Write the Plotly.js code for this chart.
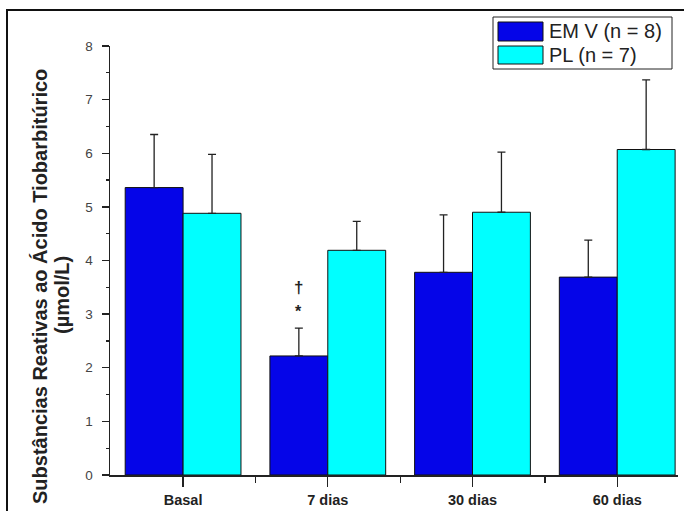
<!DOCTYPE html>
<html>
<head>
<meta charset="utf-8">
<script src="https://cdn.plot.ly/plotly-3.0.1.min.js"></script>
<style>html,body{margin:0;padding:0;background:#fff;}#chart{width:684px;height:511px;}</style>
</head>
<body>
<div id="chart"></div>
<script>
// ---- data ----
var categories = ["Basal", "7 dias", "30 dias", "60 dias"];
var emvName = "EM V (n = 8)";
var plName = "PL (n = 7)";
var emvMean = [5.36, 2.22, 3.78, 3.69];
var emvSD   = [0.99, 0.52, 1.07, 0.69];
var plMean  = [4.88, 4.19, 4.90, 6.07];
var plSD    = [1.10, 0.54, 1.12, 1.30];
var yTicks = [0, 1, 2, 3, 4, 5, 6, 7, 8];

// ---- layout geometry (pixels) ----
var L = 110, R = 6, T = 46, B = 36, Wd = 684, Ht = 511;
var PW = Wd - L - R, PH = Ht - T - B;
function px(x) { return (x - L) / PW; }
function py(y) { return (Ht - B - y) / PH; }

var xIdx = categories.map(function (c, i) { return i; });
var zeros = categories.map(function () { return 0; });

var emvTrace = {
  type: 'bar', name: emvName, x: xIdx, y: emvMean,
  marker: { color: '#0505e8', line: { color: '#111', width: 1 } },
  error_y: { type: 'data', symmetric: false, array: emvSD, arrayminus: zeros,
             color: '#222', thickness: 1.3, width: 4 }
};
var plTrace = {
  type: 'bar', name: plName, x: xIdx, y: plMean,
  marker: { color: '#00ffff', line: { color: '#111', width: 1 } },
  error_y: { type: 'data', symmetric: false, array: plSD, arrayminus: zeros,
             color: '#222', thickness: 1.3, width: 4 }
};

var font = 'Liberation Sans, Arial, sans-serif';

var layout = {
  width: Wd, height: Ht,
  margin: { l: L, r: R, t: T, b: B, pad: 0 },
  paper_bgcolor: '#fff', plot_bgcolor: '#fff',
  barmode: 'group', bargap: 0.2, bargroupgap: 0,
  showlegend: false,
  font: { family: font, color: '#222' },
  xaxis: {
    type: 'linear', range: [-0.505, 3.42],
    tickmode: 'array', tickvals: xIdx, ticktext: categories,
    ticks: 'outside', ticklen: 10, tickwidth: 1.3, tickcolor: '#222',
    minor: { tickmode: 'array', tickvals: [0.5, 1.5, 2.5], ticks: 'outside', ticklen: 6, tickwidth: 1.3, tickcolor: '#222' },
    showline: true, linecolor: '#222', linewidth: 1.5,
    showgrid: false, zeroline: false,
    ticklabelstandoff: 1,
    tickfont: { family: font, size: 14.5, color: '#222', weight: 'bold' }
  },
  yaxis: {
    range: [0, 8], tickmode: 'array', tickvals: yTicks,
    ticks: 'outside', ticklen: 7, tickwidth: 1.3, tickcolor: '#222',
    minor: { dtick: 0.5, tick0: 0, ticks: 'outside', ticklen: 3, tickwidth: 1.3, tickcolor: '#222' },
    showline: true, linecolor: '#222', linewidth: 1.5,
    showgrid: false, zeroline: false,
    ticklabelstandoff: 6,
    tickfont: { family: font, size: 13.5, color: '#444' }
  },
  shapes: [
    // outer frame (left & top)
    { type: 'line', xref: 'paper', yref: 'paper', x0: px(7), x1: px(7), y0: py(10), y1: py(520), line: { color: '#111', width: 2 } },
    { type: 'line', xref: 'paper', yref: 'paper', x0: px(6), x1: px(690), y0: py(10), y1: py(10), line: { color: '#111', width: 2 } },
    // legend box
    { type: 'rect', xref: 'paper', yref: 'paper', x0: px(493), x1: px(672), y0: py(17), y1: py(69), line: { color: '#222', width: 1 }, fillcolor: 'rgba(0,0,0,0)' },
    { type: 'rect', xref: 'paper', yref: 'paper', x0: px(498), x1: px(543), y0: py(22), y1: py(41), line: { color: '#111', width: 1 }, fillcolor: '#0505e8' },
    { type: 'rect', xref: 'paper', yref: 'paper', x0: px(498), x1: px(543), y0: py(46), y1: py(64), line: { color: '#111', width: 1 }, fillcolor: '#00ffff' }
  ],
  annotations: [
    { xref: 'paper', yref: 'paper', x: px(547), y: py(31), xanchor: 'left', yanchor: 'middle', showarrow: false,
      text: emvName, font: { family: font, size: 20, color: '#222' } },
    { xref: 'paper', yref: 'paper', x: px(547), y: py(55), xanchor: 'left', yanchor: 'middle', showarrow: false,
      text: plName, font: { family: font, size: 20, color: '#222' } },
    // y-axis title (two lines)
    { xref: 'paper', yref: 'paper', x: px(40), y: py(287), xanchor: 'center', yanchor: 'middle', showarrow: false, textangle: -90,
      text: 'Substâncias Reativas ao Ácido Tiobarbitúrico', font: { family: font, size: 20, color: '#222', weight: 'bold' } },
    { xref: 'paper', yref: 'paper', x: px(62), y: py(295), xanchor: 'center', yanchor: 'middle', showarrow: false, textangle: -90,
      text: '(µmol/L)', font: { family: font, size: 20, color: '#222', weight: 'bold' } },
    // significance marks
    { xref: 'x', yref: 'y', x: 0.8, y: 3.04, showarrow: false, text: '*', font: { family: font, size: 16, color: '#222', weight: 'bold' } },
    { xref: 'x', yref: 'y', x: 0.8, y: 3.50, showarrow: false, text: '†', font: { family: font, size: 17, color: '#222', weight: 'bold' } }
  ]
};

Plotly.newPlot('chart', [emvTrace, plTrace], layout, { staticPlot: true, displayModeBar: false });
</script>
</body>
</html>
